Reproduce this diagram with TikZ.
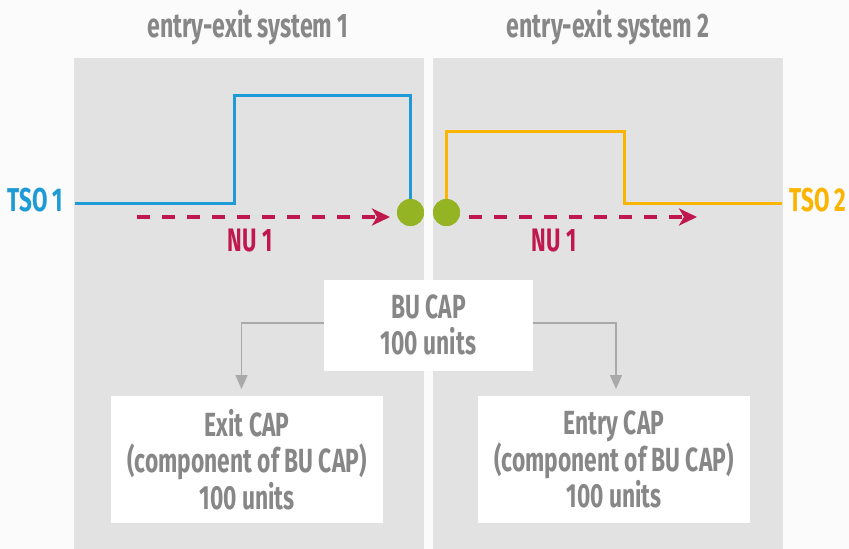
\documentclass[tikz,border=0pt]{standalone}
\usepackage{fontspec}
\setmainfont{Fira Sans}[FakeStretch=0.68]
\usetikzlibrary{arrows.meta}
\definecolor{bgc}{HTML}{FBFBFB}
\definecolor{panel}{HTML}{E2E2E2}
\definecolor{tsoblue}{HTML}{1E9BD7}
\definecolor{tsoorange}{HTML}{FBB400}
\definecolor{dotgreen}{HTML}{95B424}
\definecolor{nured}{HTML}{C0184E}
\definecolor{txtgray}{HTML}{878787}
\definecolor{arrgray}{HTML}{A9A9A9}
\tikzset{
  title/.style={text=txtgray, font=\fontsize{34}{36}\selectfont\bfseries},
  tsolabel/.style={font=\fontsize{33}{36}\selectfont\bfseries},
  nulabel/.style={text=nured, font=\fontsize{32.5}{36}\selectfont\bfseries},
  capbox/.style={fill=white, draw=none, align=center, text=txtgray,
    font=\fontsize{33.5}{36.5}\selectfont\bfseries, inner sep=0pt},
  flowline/.style={line width=3pt},
  nuarrow/.style={draw=nured, line width=3.5pt, dash pattern=on 13pt off 12pt,
    -{Stealth[length=18pt,width=17pt,inset=5pt]}},
  grayarrow/.style={draw=arrgray, line width=1.5pt,
    -{Triangle[length=14pt,width=12pt]}},
  gdot/.style={circle, fill=dotgreen, minimum size=27pt, inner sep=0pt},
}
\begin{document}
\begin{tikzpicture}[x=1pt,y=-1pt]
\useasboundingbox (0,0) rectangle (849,549);
\fill[bgc] (0,0) rectangle (849,549);
\fill[panel] (74,58) rectangle (424,549);
\fill[panel] (433,58) rectangle (783,549);

\node[title] (t1) at (248,27) {entry-exit system 1};
\node[title] (t2) at (608,27) {entry-exit system 2};

\node[tsolabel, text=tsoblue] (tso1) at (35.5,200) {TSO 1};
\node[tsolabel, text=tsoorange] (tso2) at (818,200) {TSO 2};

\coordinate (b0) at (75,203);
\coordinate (o3) at (782,203);
\node[gdot] (d1) at (410.5,212.5) {};
\node[gdot] (d2) at (446.5,212.5) {};

\draw[tsoblue, flowline] (b0) -- (234,203) -- (234,95) -- (410.5,95) -- (d1.center);
\draw[tsoorange, flowline] (d2.center) -- (446.5,131) -- (624,131) -- (624,203) -- (o3);
\node[gdot] at (d1) {};
\node[gdot] at (d2) {};

\coordinate (n1s) at (137,217);
\coordinate (n1e) at (390,217);
\coordinate (n2s) at (469,217);
\coordinate (n2e) at (697,217);
\draw[nuarrow] (n1s) -- (n1e);
\draw[nuarrow] (n2s) -- (n2e);
\node[nulabel] (nu1) at (250,241) {NU 1};
\node[nulabel] (nu2) at (554,241) {NU 1};

\node[capbox, minimum width=209pt, minimum height=91pt] (bu) at (428.5,325)
  {BU CAP\\100 units};
\node[capbox, minimum width=272pt, minimum height=127pt] (exit) at (247,459.5)
  {Exit CAP\\(component of BU CAP)\\100 units};
\node[capbox, minimum width=272pt, minimum height=127pt] (entry) at (614,459.5)
  {Entry CAP\\(component of BU CAP)\\100 units};

\coordinate (ea) at (241.5,389);
\coordinate (na) at (616,389);
\draw[grayarrow] ([yshift=2pt]bu.west) -| (ea);
\draw[grayarrow] ([yshift=2pt]bu.east) -| (na);
\end{tikzpicture}
\end{document}
